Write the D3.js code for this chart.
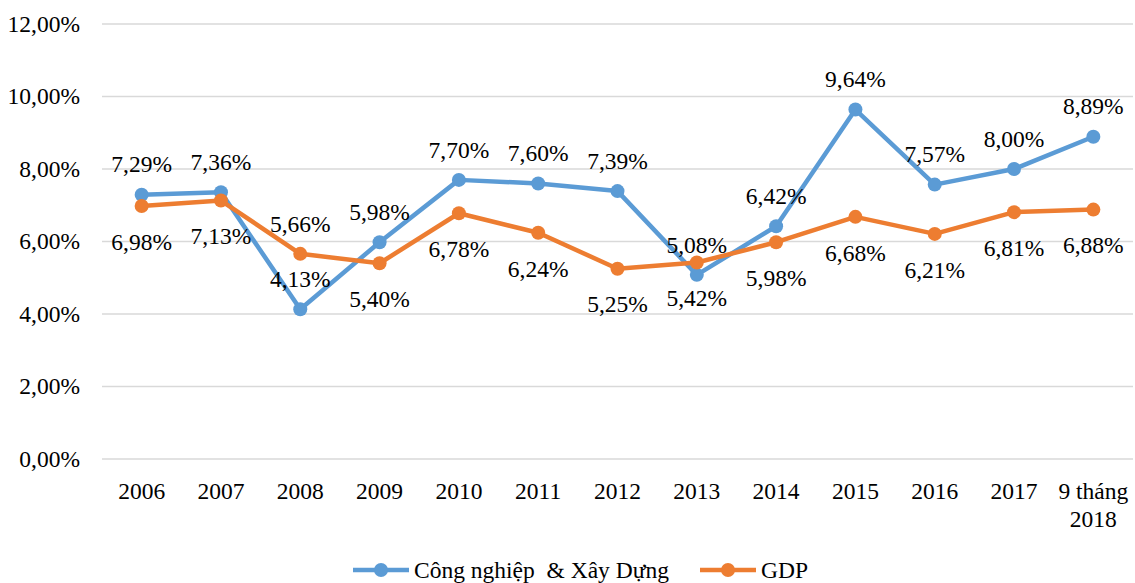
<!DOCTYPE html>
<html>
<head>
<meta charset="utf-8">
<script src="https://cdn.jsdelivr.net/npm/d3@7"></script>
<style>
  body { margin: 0; background: #fff; }
</style>
</head>
<body>
<div id="chart"></div>
<script>
// chart data
const categories = ["2006", "2007", "2008", "2009", "2010", "2011", "2012", "2013", "2014", "2015", "2016", "2017", "9 tháng\n2018"];
const industry = [7.29, 7.36, 4.13, 5.98, 7.70, 7.60, 7.39, 5.08, 6.42, 9.64, 7.57, 8.00, 8.89];
const gdp = [6.98, 7.13, 5.66, 5.40, 6.78, 6.24, 5.25, 5.42, 5.98, 6.68, 6.21, 6.81, 6.88];
// which side the GDP labels sit on
const gdpLabelSide = ["below", "below", "above", "below", "below", "below", "below", "below", "below", "below", "below", "below", "below"];
const yTicks = [0, 2, 4, 6, 8, 10, 12];
const seriesNames = ["Công nghiệp  & Xây Dựng", "GDP"];

const width = 1135;
const height = 583;
const colors = ["#5b9bd5", "#ed7d31"];
const fontSize = 23.5;
const serif = "'Liberation Serif', 'Times New Roman', Tinos, 'DejaVu Serif', serif";

const svg = d3.select("#chart")
  .append("svg")
  .attr("width", width)
  .attr("height", height)
  .style("font-family", serif);

const x = d3.scalePoint()
  .domain(categories)
  .range([102, 1133])
  .padding(0.5);

const y = d3.scaleLinear()
  .domain([0, 12])
  .range([459, 24]);

const fmt = v => v.toFixed(2).replace(".", ",") + "%";

// gridlines
svg.append("g")
  .selectAll("line")
  .data(yTicks)
  .enter().append("line")
  .attr("x1", 102)
  .attr("x2", 1133)
  .attr("y1", d => y(d))
  .attr("y2", d => y(d))
  .attr("stroke", "#d9d9d9")
  .attr("stroke-width", 1.5);

// y labels
svg.append("g")
  .selectAll("text")
  .data(yTicks)
  .enter().append("text")
  .attr("x", 80)
  .attr("y", d => y(d))
  .attr("dy", "0.33em")
  .attr("text-anchor", "end")
  .attr("font-family", serif)
  .attr("font-size", fontSize)
  .text(d => fmt(d));

// x labels
const xl = svg.append("g")
  .selectAll("text")
  .data(categories)
  .enter().append("text")
  .attr("x", d => x(d))
  .attr("y", 499)
  .attr("text-anchor", "middle")
  .attr("font-family", serif)
  .attr("font-size", fontSize);

xl.each(function(d) {
  const lines = d.split("\n");
  d3.select(this).selectAll("tspan")
    .data(lines)
    .enter().append("tspan")
    .attr("x", x(d))
    .attr("dy", (l, i) => i === 0 ? 0 : 28)
    .text(l => l);
});

const line = d3.line()
  .x((d, i) => x(categories[i]))
  .y(d => y(d));

const series = [industry, gdp];

series.forEach((vals, s) => {
  const g = svg.append("g");
  g.append("path")
    .datum(vals)
    .attr("d", line)
    .attr("fill", "none")
    .attr("stroke", colors[s])
    .attr("stroke-width", 4.5)
    .attr("stroke-linejoin", "round");

  g.selectAll("circle")
    .data(vals)
    .enter().append("circle")
    .attr("cx", (d, i) => x(categories[i]))
    .attr("cy", d => y(d))
    .attr("r", 7)
    .attr("fill", colors[s]);
});

// data labels
series.forEach((vals, s) => {
  svg.append("g")
    .selectAll("text")
    .data(vals)
    .enter().append("text")
    .attr("x", (d, i) => x(categories[i]))
    .attr("y", (d, i) => {
      const above = s === 0 || gdpLabelSide[i] === "above";
      return y(d) + (above ? -30 : 36);
    })
    .attr("dy", "0.33em")
    .attr("text-anchor", "middle")
    .attr("font-family", serif)
    .attr("font-size", fontSize)
    .text(d => fmt(d));
});

// legend
const legend = svg.append("g").attr("transform", "translate(0,570)");
const legendX = [353, 700];
seriesNames.forEach((name, s) => {
  const lg = legend.append("g").attr("transform", `translate(${legendX[s]},0)`);
  lg.append("line")
    .attr("x1", 0).attr("x2", 56)
    .attr("stroke", colors[s])
    .attr("stroke-width", 4.5);
  lg.append("circle")
    .attr("cx", 28)
    .attr("r", 7)
    .attr("fill", colors[s]);
  lg.append("text")
    .attr("x", 61)
    .attr("dy", "0.33em")
    .attr("font-family", serif)
    .attr("font-size", fontSize)
    .style("white-space", "pre")
    .text(name);
});
</script>
</body>
</html>
